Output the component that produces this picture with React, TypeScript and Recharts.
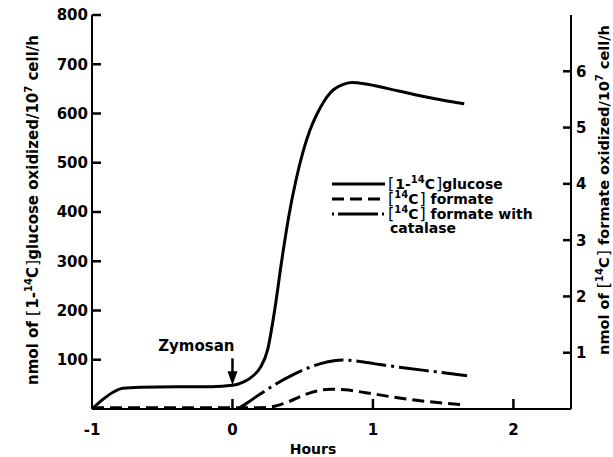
import React from "react";
import {
  LineChart,
  Line,
  XAxis,
  YAxis,
  ReferenceDot,
  Customized,
} from "recharts";

// [1-14C]glucose, nmol / 10^7 cells / h (left axis)
const glucoseHours = [
  -1, -0.92, -0.85, -0.78, -0.65, -0.4, -0.15, 0, 0.08, 0.15, 0.2, 0.25, 0.3,
  0.35, 0.4, 0.45, 0.5, 0.55, 0.6, 0.65, 0.7, 0.78, 0.85, 0.95, 1.1, 1.3, 1.5,
  1.65,
];
const glucoseValues = [
  0, 20, 34, 42, 44, 45, 45, 48, 55, 68, 85, 120, 200, 300, 390, 462, 520, 565,
  598, 624, 643, 658, 663, 660, 651, 638, 627, 620,
];

// [14C]formate (right axis)
const formateHours = [
  -1, -0.5, 0, 0.15, 0.25, 0.3, 0.4, 0.49, 0.6, 0.7, 0.8, 0.95, 1.2, 1.4, 1.62,
];
const formateValues = [
  0.02, 0.02, 0.02, 0.02, 0.03, 0.05, 0.13, 0.23, 0.32, 0.35, 0.34, 0.29, 0.19,
  0.13, 0.08,
];

// [14C]formate with catalase (right axis)
const catalaseHours = [
  0.05, 0.1, 0.2, 0.3, 0.44, 0.55, 0.68, 0.78, 0.92, 1.05, 1.23, 1.45, 1.67,
];
const catalaseValues = [
  0.02, 0.1, 0.27, 0.43, 0.62, 0.74, 0.84, 0.87, 0.84, 0.79, 0.73, 0.66, 0.59,
];

const xTicks = [-1, 0, 1, 2];
const leftTicks = [100, 200, 300, 400, 500, 600, 700, 800];
const rightTicks = [1, 2, 3, 4, 5, 6];

const X_DOMAIN = [-1, 2.41];
const LEFT_DOMAIN = [0, 800];
const RIGHT_DOMAIN = [0, 7];

const zymosanHour = 0;
const zymosanValue = 48;

const glucoseData = glucoseHours.map((h, i) => ({ h, v: glucoseValues[i] }));
const formateData = formateHours.map((h, i) => ({ h, v: formateValues[i] }));
const catalaseData = catalaseHours.map((h, i) => ({ h, v: catalaseValues[i] }));

// chart box
const W = 613;
const H = 457;
const M = { top: 15, right: 0, bottom: 0, left: 0 };
const LEFT_W = 92;
const RIGHT_W = 42;
const XAXIS_H = 48;
const PX0 = M.left + LEFT_W;
const PX1 = W - M.right - RIGHT_W;
const PY0 = M.top;
const PY1 = H - M.bottom - XAXIS_H;

const lin = (d, r0, r1) => (v) => r0 + ((v - d[0]) / (d[1] - d[0])) * (r1 - r0);
const sx = lin(X_DOMAIN, PX0, PX1);
const syL = lin(LEFT_DOMAIN, PY1, PY0);
const syR = lin(RIGHT_DOMAIN, PY1, PY0);

const FONT = "'DejaVu Sans', sans-serif";
const AXIS = { stroke: "#000", strokeWidth: 2 };

const LeftTick = ({ x, y, payload }) => (
  <text x={x} y={y} dy="0.36em" textAnchor="end" fontFamily={FONT} fontWeight="bold" fontSize={15} fill="#000">
    {payload.value}
  </text>
);

const RightTick = ({ x, y, payload }) => (
  <text x={x + 1} y={y} dy="0.36em" textAnchor="start" fontFamily={FONT} fontWeight="bold" fontSize={15} fill="#000">
    {payload.value}
  </text>
);

const BottomTick = ({ x, y, payload }) => (
  <text x={x} y={y} dy="0.72em" textAnchor="middle" fontFamily={FONT} fontWeight="bold" fontSize={15} fill="#000">
    {payload.value}
  </text>
);

const ZymosanArrow = ({ cx, cy }) => (
  <g>
    <text x={cx + 2} y={cy - 34} textAnchor="end" fontFamily={FONT} fontWeight="bold" fontSize={15} fill="#000">
      Zymosan
    </text>
    <line x1={cx} x2={cx} y1={cy - 27} y2={cy - 12} stroke="#000" strokeWidth={2.5} />
    <path d={`M${cx - 5},${cy - 14} L${cx + 5},${cy - 14} L${cx},${cy} Z`} fill="#000" />
  </g>
);

const Bracketed = ({ inner }) => (
  <>
    <tspan fontSize={16} fontWeight="normal">[</tspan>
    <tspan dx={1}>{inner}</tspan>
    <tspan fontSize={10} dy={-6}>14</tspan>
    <tspan dy={6}>C</tspan>
    <tspan fontSize={16} fontWeight="normal" dx={1}>]</tspan>
  </>
);

// inward-pointing tick marks on all three axes
const InwardTicks = () => (
  <g stroke="#000" strokeWidth={2.5}>
    {leftTicks.map((v) => (
      <line key={`l${v}`} x1={PX0} x2={PX0 + 9} y1={syL(v)} y2={syL(v)} />
    ))}
    {rightTicks.map((v) => (
      <line key={`r${v}`} x1={PX1 - 8} x2={PX1} y1={syR(v)} y2={syR(v)} />
    ))}
    {xTicks.slice(1).map((t) => (
      <line key={`x${t}`} x1={sx(t)} x2={sx(t)} y1={PY1} y2={PY1 - 10} />
    ))}
  </g>
);

const Annotations = () => (
  <g fontFamily={FONT} fontWeight="bold" fill="#000">
    <InwardTicks />
    {/* left axis title */}
    <text transform="translate(38,210) rotate(-90)" textAnchor="middle" fontSize={15}>
      nmol of <Bracketed inner="1-" />glucose oxidized/10
      <tspan fontSize={10} dy={-6}>7</tspan>
      <tspan dy={6}> cell/h</tspan>
    </text>
    {/* right axis title */}
    <text transform="translate(609,190) rotate(-90)" textAnchor="middle" fontSize={14.5}>
      nmol of <Bracketed inner="" /> formate oxidized/10
      <tspan fontSize={10} dy={-6}>7</tspan>
      <tspan dy={6}> cell/h</tspan>
    </text>
    {/* x axis title */}
    <text x={313} y={454} textAnchor="middle" fontSize={14}>
      Hours
    </text>
    {/* legend */}
    <line x1={332} x2={385} y1={184} y2={184} stroke="#000" strokeWidth={3} />
    <line x1={332} x2={385} y1={199} y2={199} stroke="#000" strokeWidth={3} strokeDasharray="12 6" />
    <line x1={332} x2={385} y1={214} y2={214} stroke="#000" strokeWidth={3} strokeDasharray="2 4 40 4" />
    <text x={388} y={189} fontSize={14}>
      <Bracketed inner="1-" />glucose
    </text>
    <text x={388} y={204} fontSize={14}>
      <Bracketed inner="" /> formate
    </text>
    <text x={388} y={219} fontSize={14}>
      <Bracketed inner="" /> formate with
    </text>
    <text x={390} y={233} fontSize={14}>
      catalase
    </text>
  </g>
);

export default function App() {
  return (
    <div style={{ position: "absolute", left: 0, top: 0, background: "#fff" }}>
      <LineChart width={W} height={H} margin={M}>
        <XAxis
          dataKey="h"
          type="number"
          domain={X_DOMAIN}
          ticks={xTicks}
          allowDataOverflow
          height={XAXIS_H}
          axisLine={AXIS}
          tickLine={false}
          tickSize={0}
          tickMargin={15}
          tick={<BottomTick />}
        />
        <YAxis
          yAxisId="left"
          orientation="left"
          domain={LEFT_DOMAIN}
          ticks={leftTicks}
          width={LEFT_W}
          axisLine={AXIS}
          tickLine={false}
          tickSize={0}
          tickMargin={4}
          tick={<LeftTick />}
        />
        <YAxis
          yAxisId="right"
          orientation="right"
          domain={RIGHT_DOMAIN}
          ticks={rightTicks}
          width={RIGHT_W}
          axisLine={AXIS}
          tickLine={false}
          tickSize={0}
          tickMargin={4}
          tick={<RightTick />}
        />
        <Line
          yAxisId="left"
          data={glucoseData}
          dataKey="v"
          type="monotone"
          stroke="#000"
          strokeWidth={3}
          dot={false}
          isAnimationActive={false}
        />
        <Line
          yAxisId="right"
          data={formateData}
          dataKey="v"
          type="monotone"
          stroke="#000"
          strokeWidth={3}
          strokeDasharray="12 6"
          dot={false}
          isAnimationActive={false}
        />
        <Line
          yAxisId="right"
          data={catalaseData}
          dataKey="v"
          type="monotone"
          stroke="#000"
          strokeWidth={3}
          strokeDasharray="30 5 3 5"
          dot={false}
          isAnimationActive={false}
        />
        <ReferenceDot
          yAxisId="left"
          x={zymosanHour}
          y={zymosanValue}
          shape={(p) => <ZymosanArrow cx={p.cx} cy={p.cy} />}
        />
        <Customized component={<Annotations />} />
      </LineChart>
    </div>
  );
}
